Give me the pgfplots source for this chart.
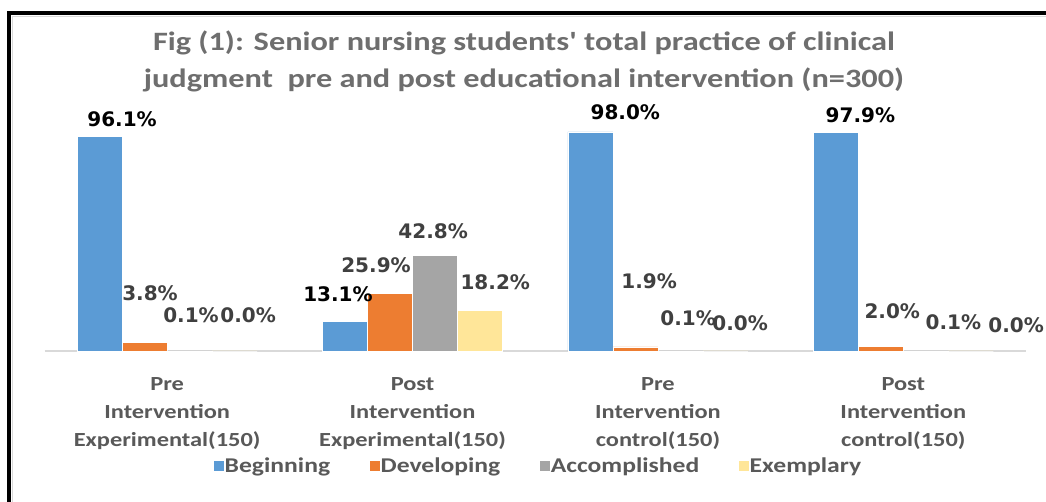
\documentclass[border=0pt]{standalone}
\usepackage{pgfplots}
\pgfplotsset{compat=1.18}
\usepackage{fontspec}
\newfontfamily\calf[FakeStretch=1.22]{Carlito}
\newfontfamily\dvs{DejaVu Sans}
\definecolor{cB}{HTML}{5B9BD5}
\definecolor{cD}{HTML}{ED7D31}
\definecolor{cA}{HTML}{A5A5A5}
\definecolor{cE}{HTML}{FFE699}
\definecolor{tgrey}{HTML}{595959}
\definecolor{lgrey}{HTML}{404040}
\definecolor{ttl}{HTML}{6E6E6E}
\begin{document}
\begin{tikzpicture}
\useasboundingbox (0,0) rectangle (1046bp,502bp);
\fill[white] (0,0) rectangle (1046bp,502bp);
\draw[black!15, line width=1.5bp] (12.5bp,0) -- (12.5bp,485.5bp) -- (1046bp,485.5bp);
\draw[black, line width=4bp] (9bp,0) -- (9bp,489bp) -- (1046bp,489bp);
\node[align=center, font=\calf\bfseries\fontsize{26.5bp}{37bp}\selectfont, text=ttl] at (524bp,441bp)
 {Fig (1): Senior nursing students' total practice of clinical\\judgment\ \ pre and post educational intervention (n=300)};
\begin{axis}[
  at={(44.5bp,151bp)}, anchor=south west,
  scale only axis, width=981.5bp, height=223.6bp,
  xmin=-0.5, xmax=3.5, ymin=0, ymax=100, clip=false,
  axis x line*=bottom, axis y line=none,
  x axis line style={-, draw=black!15, line width=1.2bp},
  xtick={0,1,2,3},
  xticklabels={{Pre\\Intervention\\Experimental(150)},{Post\\Intervention\\Experimental(150)},{Pre\\Intervention\\control(150)},{Post\\Intervention\\control(150)}},
  major tick length=0pt,
  xticklabel style={align=center, font=\calf\bfseries\fontsize{20bp}{28bp}\selectfont, text=tgrey, yshift=-23bp},
  ytick=\empty,
  legend columns=4,
  legend style={at={(0.503,-0.514)}, anchor=center, draw=none, fill=none,
    font=\calf\bfseries\fontsize{21bp}{24bp}\selectfont, text=tgrey,
    nodes={inner sep=1.5bp},
    /tikz/every even column/.append style={column sep=38bp}},
]
\addplot[ybar, bar width=45bp, bar shift=-67.5bp, fill=cB, draw=white, line width=0.5bp,
  legend image code/.code={\fill[cB] (0bp,-4.5bp) rectangle (9bp,4.5bp);}]
  coordinates {(0,96.1) (1,13.1) (2,98.0) (3,97.9)};
\addplot[ybar, bar width=45bp, bar shift=-22.5bp, fill=cD, draw=white, line width=0.5bp,
  legend image code/.code={\fill[cD] (0bp,-4.5bp) rectangle (9bp,4.5bp);}]
  coordinates {(0,3.8) (1,25.9) (2,1.9) (3,2.0)};
\addplot[ybar, bar width=45bp, bar shift=22.5bp, fill=cA, draw=white, line width=0.5bp,
  legend image code/.code={\fill[cA] (0bp,-4.5bp) rectangle (9bp,4.5bp);}]
  coordinates {(0,0.1) (1,42.8) (2,0.1) (3,0.1)};
\addplot[ybar, bar width=45bp, bar shift=67.5bp, fill=cE, draw=white, line width=0.5bp,
  legend image code/.code={\fill[cE] (0bp,-4.5bp) rectangle (9bp,4.5bp);}]
  coordinates {(0,0.0) (1,18.2) (2,0.0) (3,0.0)};
\legend{Beginning, Developing, Accomplished, Exemplary}
% value labels (black)
\addplot[draw=none, mark=none, forget plot, point meta=explicit symbolic,
  nodes near coords={\pgfplotspointmeta\%},
  nodes near coords style={anchor=center, inner sep=0pt, text=black, font=\dvs\bfseries\fontsize{20bp}{24bp}\selectfont}]
  table[meta=lab] {
x y lab
-0.184 103.8 96.1
0.696 25.5 13.1
1.867 106.9 98.0
2.825 105.5 97.9
};
% value labels (grey)
\addplot[draw=none, mark=none, forget plot, point meta=explicit symbolic,
  nodes near coords={\pgfplotspointmeta\%},
  nodes near coords style={anchor=center, inner sep=0pt, text=lgrey, font=\dvs\bfseries\fontsize{20bp}{24bp}\selectfont}]
  table[meta=lab] {
x y lab
-0.070 25.9 3.8
0.097 16.1 0.1
0.330 16.1 0.0
0.851 38.5 25.9
1.084 53.7 42.8
1.337 30.9 18.2
1.964 31.3 1.9
2.123 14.8 0.1
2.335 12.5 0.0
2.955 17.9 2.0
3.204 13.0 0.1
3.460 11.6 0.0
};
\end{axis}
\end{tikzpicture}
\end{document}
